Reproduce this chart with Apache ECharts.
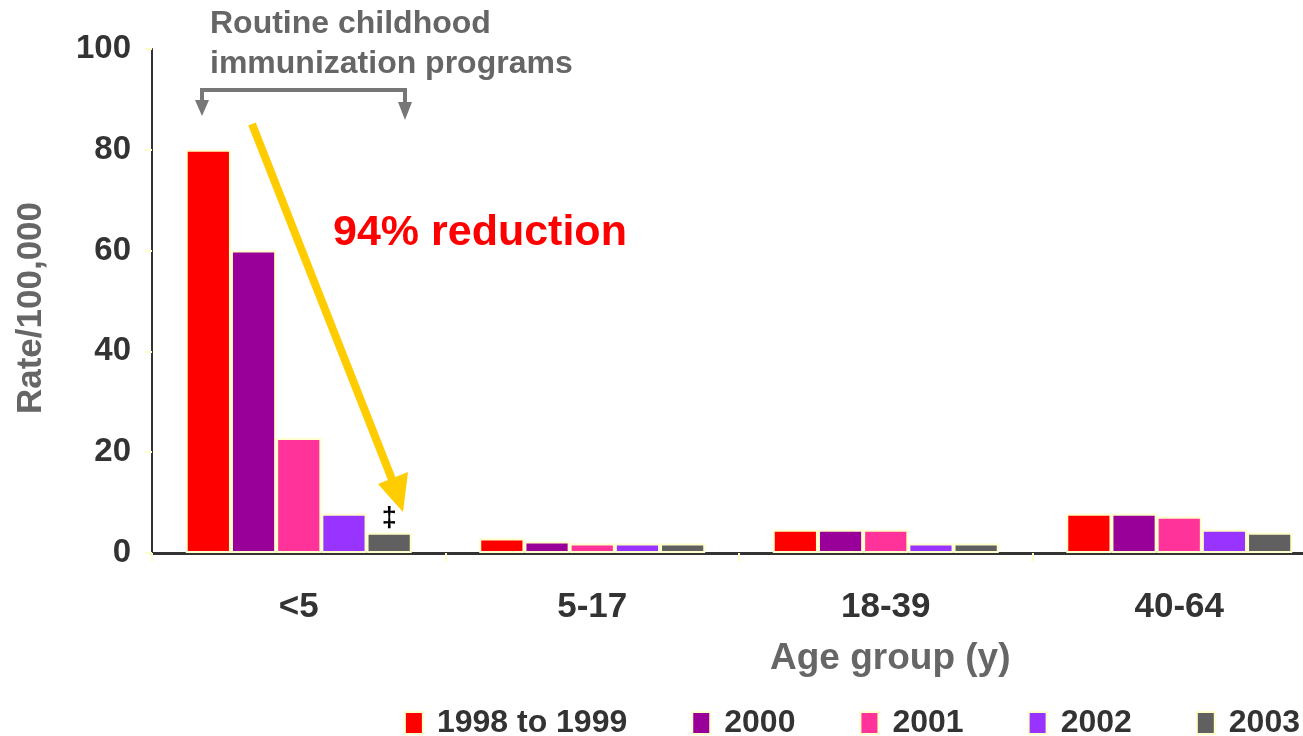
<!DOCTYPE html>
<html>
<head>
<meta charset="utf-8">
<script src="https://cdn.jsdelivr.net/npm/echarts@6/dist/echarts.min.js"></script>
<style>
  html, body { margin: 0; padding: 0; background: #fff; overflow: hidden; }
  #chart { width: 1330px; height: 736px; }
</style>
</head>
<body>
<div id="chart"></div>
<script>
// Age groups on the category axis
const ageGroups = ['<5', '5-17', '18-39', '40-64'];
// Rate per 100,000 by period
const seriesNames = ['1998 to 1999', '2000', '2001', '2002', '2003'];
const rate1998to1999 = [80, 2.9, 4.6, 7.8];
const rate2000 = [60, 2.3, 4.6, 7.8];
const rate2001 = [22.8, 1.9, 4.6, 7.2];
const rate2002 = [7.8, 1.9, 1.9, 4.6];
const rate2003 = [4.0, 1.9, 1.9, 4.0];
const yTicks = [0, 20, 40, 60, 80, 100];

const colors = ['#ff0000', '#990099', '#ff3399', '#9933ff', '#606060'];
const FONT = "'Liberation Sans', Arial, sans-serif";
const allRates = [rate1998to1999, rate2000, rate2001, rate2002, rate2003];

const chart = echarts.init(document.getElementById('chart'), null, { renderer: 'canvas' });

const series = seriesNames.map((name, i) => ({
  name: name,
  type: 'bar',
  barGap: '0%',
  barCategoryGap: '23%',
  itemStyle: { color: colors[i], borderColor: '#ffffcc', borderWidth: 2 },
  data: allRates[i].map((v, j) => {
    // double dagger marks the 2003 rate in the youngest group
    if (name === '2003' && j === 0) {
      return {
        value: v,
        label: {
          show: true, position: 'top', distance: 1, formatter: '\u2021',
          color: '#000', fontWeight: 'bold', fontSize: 27, fontFamily: FONT
        }
      };
    }
    return v;
  })
}));

chart.setOption({
  animation: false,
  backgroundColor: '#fff',
  color: colors,
  grid: { left: 152, right: 4, top: 49, bottom: 183, containLabel: false },
  xAxis: {
    type: 'category',
    data: ageGroups,
    axisLine: { lineStyle: { color: '#333', width: 3 } },
    axisTick: { show: true, length: 9, lineStyle: { color: '#ffffcc', width: 2 } },
    axisLabel: { color: '#333', fontWeight: 'bold', fontSize: 35, fontFamily: FONT, margin: 37 }
  },
  yAxis: {
    type: 'value',
    min: yTicks[0],
    max: yTicks[yTicks.length - 1],
    interval: yTicks[1] - yTicks[0],
    axisLine: { show: true, lineStyle: { color: '#333', width: 2 } },
    axisTick: { show: true, length: 7, lineStyle: { color: '#ffffcc', width: 2 } },
    splitLine: { show: false },
    axisLabel: { color: '#333', fontWeight: 'bold', fontSize: 33, fontFamily: FONT, margin: 21 }
  },
  legend: {
    data: seriesNames,
    right: 25,
    bottom: -8,
    itemWidth: 18,
    itemHeight: 22,
    itemGap: 64,
    icon: 'rect',
    itemStyle: { borderColor: '#ffffcc', borderWidth: 2 },
    textStyle: { color: '#333', fontWeight: 'bold', fontSize: 32, fontFamily: FONT, padding: [0, 0, 0, 9] }
  },
  graphic: [
    {
      // value axis title
      type: 'text', x: 31, y: 308, rotation: Math.PI / 2,
      style: {
        text: 'Rate/100,000', fill: '#666', font: "bold 35px " + FONT,
        align: 'center', verticalAlign: 'middle'
      }
    },
    {
      type: 'text', left: 210, top: 4,
      style: {
        text: 'Routine childhood\nimmunization programs',
        fill: '#666', font: "bold 32px " + FONT, lineHeight: 40
      }
    },
    {
      // bracket spanning the <5 group
      type: 'polyline',
      shape: { points: [[202, 104], [202, 90], [405, 90], [405, 106]] },
      style: { stroke: '#777', lineWidth: 4, fill: null }
    },
    { type: 'polygon', shape: { points: [[195, 100], [209, 100], [202, 116]] }, style: { fill: '#777' } },
    { type: 'polygon', shape: { points: [[398, 102], [412, 102], [405, 120]] }, style: { fill: '#777' } },
    {
      // yellow arrow toward the 2003 bar
      type: 'line',
      shape: { x1: 252, y1: 124, x2: 393, y2: 482 },
      style: { stroke: '#ffcc00', lineWidth: 8 }
    },
    { type: 'polygon', shape: { points: [[378, 484], [408, 472], [403, 512]] }, style: { fill: '#ffcc00' } },
    {
      type: 'text', left: 333, top: 212,
      style: { text: '94% reduction', fill: '#ff0000', font: "bold 43px " + FONT }
    },
    {
      type: 'text', left: 770, top: 640,
      style: { text: 'Age group (y)', fill: '#666', font: "bold 37px " + FONT }
    }
  ],
  series: series
});
</script>
</body>
</html>
